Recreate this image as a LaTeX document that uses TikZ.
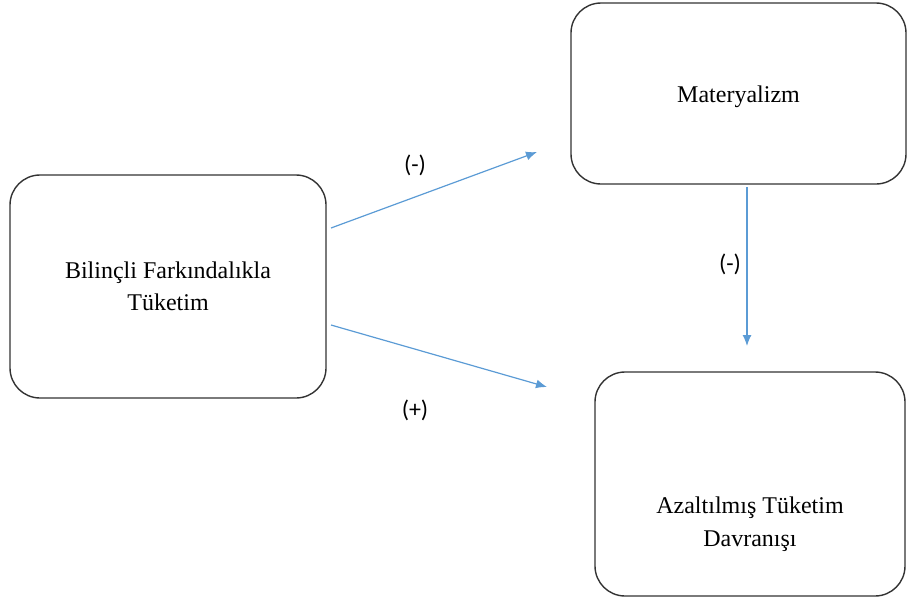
\documentclass[tikz,border=0pt]{standalone}
\usepackage{fontspec}
\setmainfont{Liberation Serif}
\newfontfamily\signfont{Carlito}
\usetikzlibrary{arrows.meta}
\definecolor{linkblue}{RGB}{91,155,213}
\tikzset{
  box/.style={draw=black!80, line width=1.4pt, rounded corners=30pt, align=center, font=\fontsize{24}{32}\selectfont},
  boxtext/.style={align=center, font=\fontsize{24}{33}\selectfont},
  link/.style={draw=linkblue, line width=1.2pt, -{Latex[length=11pt,width=9pt]}},
  sign/.style={font=\signfont\fontsize{24}{26}\selectfont}
}
\begin{document}
\begin{tikzpicture}[x=1pt,y=-1pt]
\useasboundingbox (0,0) rectangle (907,598);
%boxes
\node[box, minimum width=316pt, minimum height=223pt] (tuketim) at (168,286.5) {Bilinçli Farkındalıkla\\Tüketim};
\node[box, minimum width=335pt, minimum height=181pt] (materyalizm) at (738.5,93.5) {};
\node[boxtext] (materyalizmtext) at ([yshift=-3pt]materyalizm.center) {Materyalizm};
\node[box, minimum width=310pt, minimum height=224pt] (davranis) at (750,484) {};
\node[boxtext] (davranistext) at ([yshift=-40pt]davranis.center) {Azaltılmış Tüketim\\Davranışı};
%arrow ends
\coordinate (upstart) at (331,228);
\coordinate (upend) at (537,152);
\coordinate (downstart) at (331,325);
\coordinate (downend) at (547,387);
\coordinate (vstart) at (747,187);
\coordinate (vend) at (747,346);
\draw[link] (upstart) -- (upend);
\draw[link] (downstart) -- (downend);
\draw[link] (vstart) -- (vend);
%signs
\node[sign] (signup) at (415,165) {(-)};
\node[sign] (signdown) at (415,410) {(+)};
\node[sign] (signv) at (730,264) {(-)};
\end{tikzpicture}
\end{document}
